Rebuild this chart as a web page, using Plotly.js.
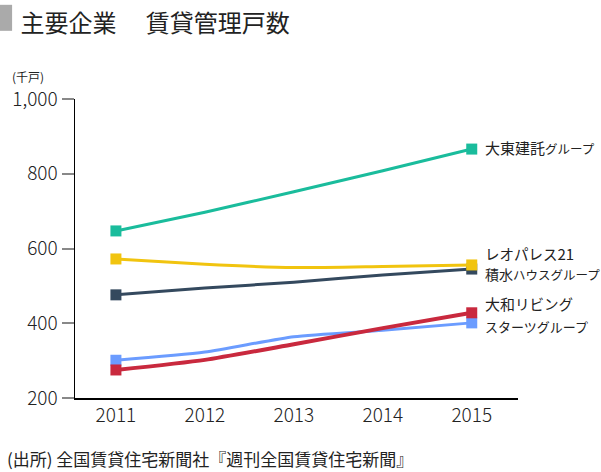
<!DOCTYPE html>
<html><head><meta charset="utf-8">
<script src="https://cdn.plot.ly/plotly-3.0.1.min.js"></script>
<style>html,body{margin:0;padding:0;background:#fff;}#chart{width:601px;height:472px;}</style>
</head><body><div id="chart"></div>
<script>
var years = [2011, 2012, 2013, 2014, 2015];
var daito = [647, 697, 752, 808, 866];
var leopalace = [572, 558, 549, 552, 556];
var sekisui = [476, 494, 510, 529, 545];
var starts = [301, 323, 364, 381, 401];
var daiwa = [275, 302, 344, 387, 428];
var names = ['大東建託グループ', 'レオパレス21', '積水ハウスグループ', '大和リビング', 'スターツグループ'];
var yTicks = [200, 400, 600, 800, 1000];
var yTickText = ['200', '400', '600', '800', '1,000'];

var F = '"Noto Sans CJK JP", "Noto Sans", sans-serif';
function endSizes(n){ return years.map(function(_, i){ return (i === 0 || i === n - 1) ? 11 : 0; }); }
function kanaSmall(t, px){
  return t.replace(/[\u30A0-\u30FF]+/g, function(m){ return '<span style="font-size:' + px + 'px">' + m + '</span>'; });
}
function tr(y, color, w){
  return {x: years, y: y, type: 'scatter', mode: 'lines+markers',
    line: {color: color, width: w, shape: 'spline', smoothing: 0.6},
    marker: {symbol: 'square', size: endSizes(years.length), color: color, opacity: 1, line: {width: 0}},
    hoverinfo: 'skip', showlegend: false, cliponaxis: false};
}
var series = [
  {y: sekisui, c: '#34495e', w: 3, name: names[2], ys: -5, fs: 14, ks: 12.5},
  {y: leopalace, c: '#f1c40f', w: 3, name: names[1], ys: 11, fs: 15, ks: 14.5},
  {y: starts, c: '#6b9cff', w: 3, name: names[4], ys: -4, fs: 14, ks: 13},
  {y: daiwa, c: '#c9293e', w: 4, name: names[3], ys: 9, fs: 15, ks: 14.5},
  {y: daito, c: '#1abc9c', w: 3, name: names[0], ys: 2, fs: 15, ks: 12.5}
];
var data = series.map(function(s){ return tr(s.y, s.c, s.w); });
var annotations = series.map(function(s){
  return {x: years[years.length - 1], y: s.y[s.y.length - 1], xref: 'x', yref: 'y',
    text: kanaSmall(s.name, s.ks), showarrow: false, xanchor: 'left', yanchor: 'middle', xshift: 11, yshift: s.ys,
    font: {family: F, size: s.fs, color: '#222'}};
});
annotations.push({xref: 'paper', yref: 'paper', x: -0.146, y: 1.04, xanchor: 'left', yanchor: 'bottom',
  text: '(千戸)', showarrow: false, font: {family: F, size: 12, color: '#222'}});
annotations.push({xref: 'paper', yref: 'paper', x: -0.158, y: -0.155, xanchor: 'left', yanchor: 'top',
  text: '(出所) 全国賃貸住宅新聞社『週刊全国賃貸住宅新聞』', showarrow: false, font: {family: F, size: 17, color: '#222'}});

var layout = {
  width: 601, height: 472,
  margin: {l: 75, r: 83, t: 99, b: 74},
  paper_bgcolor: '#fff', plot_bgcolor: '#fff',
  font: {family: F, color: '#222'},
  title: {text: '主要企業　 賃貸管理戸数', x: 0.034, xanchor: 'left', y: 0.95, yanchor: 'middle',
    font: {family: F, size: 24, color: '#222'}},
  xaxis: {range: [2010.54, 2015.52], tickvals: years, ticktext: years.map(String), showgrid: false, zeroline: false,
    showline: true, linecolor: '#000', linewidth: 1.5, ticks: '', tickfont: {family: F, size: 19, color: '#222', weight: 300}},
  yaxis: {range: [200, 1000], tickvals: yTicks, ticktext: yTickText, showgrid: false, zeroline: false,
    showline: true, linecolor: '#000', linewidth: 1.5, ticks: 'outside', ticklen: 12, tickwidth: 2, tickcolor: '#888',
    tickfont: {family: F, size: 19, color: '#222', weight: 300}},
  shapes: [{type: 'rect', xref: 'paper', yref: 'paper', x0: -0.1705, x1: -0.142, y0: 1.228, y1: 1.315,
    fillcolor: '#aaa', line: {width: 0}}],
  annotations: annotations
};
Plotly.newPlot('chart', data, layout, {displayModeBar: false, staticPlot: true});
</script></body></html>
